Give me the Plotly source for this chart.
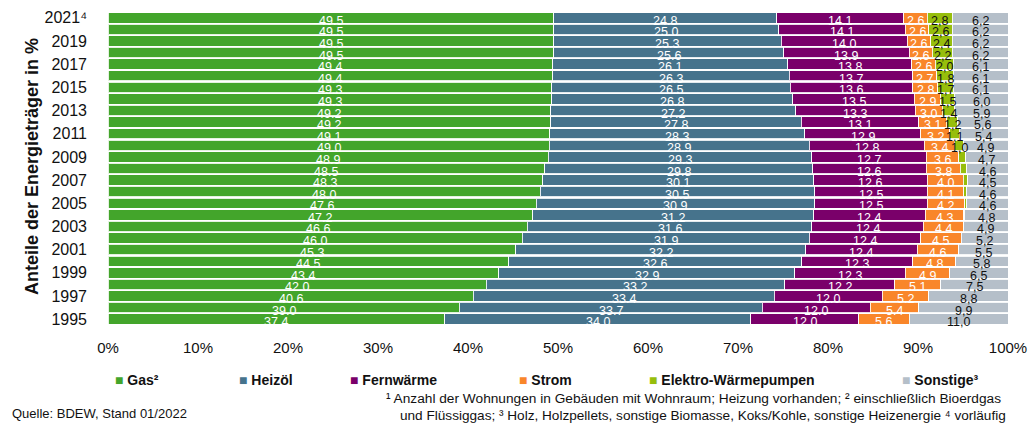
import plotly.graph_objects as go

years = [str(y) for y in range(1995, 2022)]  # bottom to top
# values listed 1995 -> 2021
gas = [37.4, 39.0, 40.6, 42.0, 43.4, 44.5, 45.3, 46.0, 46.6, 47.2, 47.6, 48.0, 48.3, 48.5,
       48.9, 49.0, 49.1, 49.2, 49.2, 49.3, 49.3, 49.4, 49.4, 49.5, 49.5, 49.5, 49.5]
heizoel = [34.0, 33.7, 33.4, 33.2, 32.9, 32.6, 32.2, 31.9, 31.6, 31.2, 30.9, 30.5, 30.1, 29.8,
           29.3, 28.9, 28.3, 27.8, 27.2, 26.8, 26.5, 26.3, 26.1, 25.6, 25.3, 25.0, 24.8]
fernwaerme = [12.0, 12.0, 12.0, 12.2, 12.3, 12.3, 12.4, 12.4, 12.4, 12.4, 12.5, 12.5, 12.6, 12.6,
              12.7, 12.8, 12.9, 13.1, 13.3, 13.5, 13.6, 13.7, 13.8, 13.9, 14.0, 14.1, 14.1]
strom = [5.6, 5.4, 5.2, 5.1, 4.9, 4.8, 4.6, 4.5, 4.4, 4.3, 4.2, 4.1, 4.0, 3.8,
         3.6, 3.4, 3.2, 3.1, 3.0, 2.9, 2.8, 2.7, 2.6, 2.6, 2.6, 2.6, 2.6]
waermepumpen = [0.0, 0.0, 0.0, 0.0, 0.0, 0.0, 0.0, 0.0, 0.1, 0.1, 0.2, 0.3, 0.5, 0.7,
                0.8, 1.0, 1.1, 1.2, 1.4, 1.5, 1.7, 1.8, 2.0, 2.2, 2.4, 2.6, 2.8]
sonstige = [11.0, 9.9, 8.8, 7.5, 6.5, 5.8, 5.5, 5.2, 4.9, 4.8, 4.6, 4.6, 4.5, 4.6,
            4.7, 4.9, 5.4, 5.6, 5.9, 6.0, 6.1, 6.1, 6.1, 6.2, 6.2, 6.2, 6.2]
wp_label_from = 2010  # smaller heat-pump shares are not labelled

series_names = ["Gas²", "Heizöl", "Fernwärme", "Strom", "Elektro-Wärmepumpen", "Sonstige³"]
series_values = [gas, heizoel, fernwaerme, strom, waermepumpen, sonstige]
colors = ["#43A52B", "#46738C", "#7A006A", "#F9862A", "#97BE0C", "#B5BFC9"]
label_colors = ["white", "white", "white", "white", "#111111", "#111111"]
decimal_sep = [".", ".", ".", ".", ",", ","]

x_ticks = list(range(0, 101, 10))
x_tick_text = [f"{v}%" for v in x_ticks]
tick_years = [str(y) for y in range(1995, 2022, 2)]
tick_text = [("2021⁴" if y == "2021" else y) for y in tick_years]

FONT = "Liberation Sans, Arial, sans-serif"

W, H = 1032, 424
L, R, T, B = 108, 24, 12, 99
PW, PH = W - L - R, H - T - B


def px_x(px):
    return (px - L) / PW


def px_y(py):
    return (H - B - py) / PH


fig = go.Figure()
for name, vals, col in zip(series_names, series_values, colors):
    fig.add_trace(go.Bar(
        y=years, x=vals, name=name, orientation="h",
        marker=dict(color=col, line=dict(color="rgba(255,255,255,0.85)", width=1)),
        showlegend=False, hoverinfo="x+y+name",
    ))

annotations = []
cum = [0.0] * len(years)
for si, vals in enumerate(series_values):
    for i, v in enumerate(vals):
        center = cum[i] + v / 2
        show = v > 0
        if si == 4 and int(years[i]) < wp_label_from:
            show = False
        if show:
            txt = f"{v:.1f}".replace(".", decimal_sep[si])
            annotations.append(dict(
                x=center, y=i, xref="x", yref="y", text=txt, showarrow=False,
                font=dict(family=FONT, size=12.5, color=label_colors[si]), yshift=-3,
            ))
        cum[i] += v

# y-axis title
annotations.append(dict(
    x=px_x(20), y=px_y(167), xref="paper", yref="paper", text="<b>Anteile der Energieträger in %</b>",
    textangle=-90, showarrow=False, font=dict(family=FONT, size=18, color="#111111"),
))

# legend built as text rows (square + label)
legend_left_px = [113, 237, 348, 517, 647, 900]
for name, col, lx in zip(series_names, colors, legend_left_px):
    annotations.append(dict(
        x=px_x(lx), y=px_y(380), xref="paper", yref="paper", xanchor="left", yanchor="middle",
        text=f'<span style="color:{col}">■</span> <b>{name}</b>', showarrow=False,
        font=dict(family=FONT, size=14, color="#111111"),
    ))

# footnotes
annotations.append(dict(
    x=px_x(693), y=px_y(398), xref="paper", yref="paper", xanchor="center", yanchor="middle",
    text="¹ Anzahl der Wohnungen in Gebäuden mit Wohnraum; Heizung vorhanden; ² einschließlich Bioerdgas",
    showarrow=False, font=dict(family=FONT, size=13.7, color="#111111"),
))
annotations.append(dict(
    x=px_x(703), y=px_y(416), xref="paper", yref="paper", xanchor="center", yanchor="middle",
    text="und Flüssiggas; ³ Holz, Holzpellets, sonstige Biomasse, Koks/Kohle, sonstige Heizenergie ⁴ vorläufig",
    showarrow=False, font=dict(family=FONT, size=13.6, color="#111111"),
))
annotations.append(dict(
    x=px_x(10), y=px_y(413), xref="paper", yref="paper", xanchor="left", yanchor="middle",
    text="Quelle: BDEW, Stand 01/2022", showarrow=False,
    font=dict(family=FONT, size=13, color="#111111"),
))

fig.update_layout(
    width=W, height=H, margin=dict(l=L, r=R, t=T, b=B, autoexpand=False),
    barmode="stack", bargap=0.1,
    plot_bgcolor="white", paper_bgcolor="white",
    font=dict(family=FONT, size=15, color="#111111"),
    annotations=annotations,
    xaxis=dict(range=[0, 100], tickmode="array", tickvals=x_ticks, ticktext=x_tick_text,
               showgrid=False, zeroline=False, showline=False, ticklabelstandoff=12,
               tickfont=dict(size=15), automargin=False),
    yaxis=dict(type="category", categoryorder="array", categoryarray=years,
               tickmode="array", tickvals=tick_years, ticktext=tick_text, showgrid=False, showline=False,
               ticklabelstandoff=20, tickfont=dict(size=16), range=[-0.5, len(years) - 0.5],
               automargin=False),
)

fig.write_html("out.html")
